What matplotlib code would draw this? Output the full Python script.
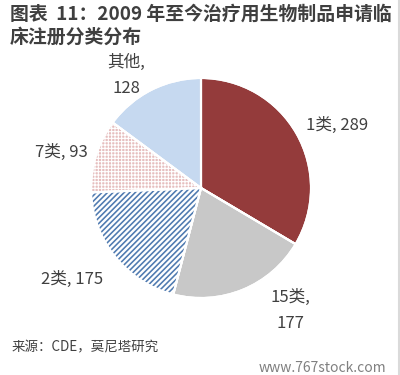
import matplotlib
matplotlib.use("Agg")
import matplotlib.pyplot as plt
from matplotlib.patches import Wedge
import numpy as np

plt.rcParams['font.family'] = ['Noto Sans CJK SC', 'DejaVu Sans']

categories = ['1类', '15类', '2类', '7类', '其他']
values = [289, 177, 175, 93, 128]
label_texts = ['1类, 289', '15类,\n177', '2类, 175', '7类, 93', '其他,\n128']

colors = ['#943B3B', '#C8C8C8', '#FFFFFF', '#E6BEBE', '#C6D9F0']
hatches = [None, None, '//////', '+++++', None]
hatch_colors = [None, None, '#4F7AB0', '#FFFFFF', None]
hatch_lw = [None, None, 1.15, 0.8, None]
# label positions in units of pie radius
label_pos = [(1.24, 0.57), (0.81, -1.11), (-1.17, -0.83), (-1.27, 0.32), (-0.68, 1.02)]

W, H = 400, 375
fig = plt.figure(figsize=(W / 100, H / 100), dpi=100)

cx, cy, R = 201, 188, 110
ax = fig.add_axes([(cx - R) / W, 1 - (cy + R) / H, 2 * R / W, 2 * R / H])

wedges, _ = ax.pie(values, colors=colors, startangle=90, counterclock=False,
                   radius=1, wedgeprops=dict(edgecolor='white', linewidth=1.5))
ax.set_xlim(-1, 1)
ax.set_ylim(-1, 1)
ax.set_aspect('equal')
ax.axis('off')
for w, h, hc, lw in zip(wedges, hatches, hatch_colors, hatch_lw):
    if h:
        plt.rcParams['hatch.linewidth'] = lw
        hw = Wedge(w.center, w.r, w.theta1, w.theta2, facecolor='none',
                   edgecolor=hc, hatch=h, linewidth=0, zorder=w.get_zorder() + 0.1)
        ax.add_patch(hw)
for w in wedges:
    ow = Wedge(w.center, w.r, w.theta1, w.theta2, facecolor='none',
               edgecolor='white', linewidth=1.5, zorder=w.get_zorder() + 0.2)
    ax.add_patch(ow)

for txt, (x, y) in zip(label_texts, label_pos):
    ax.text(x, y, txt, ha='center', va='center', fontsize=12, color='#404040',
            linespacing=1.7, clip_on=False)

fig.text(10 / W, 1 - 14 / H, '图表  11：2009 年至今治疗用生物制品申请临', fontsize=13.6,
         fontweight='bold', color='#3F3F3F', va='center', ha='left')
fig.text(10 / W, 1 - 37 / H, '床注册分类分布', fontsize=13.6,
         fontweight='bold', color='#3F3F3F', va='center', ha='left')
fig.text(12 / W, 1 - 347 / H, '来源：CDE，莫尼塔研究', fontsize=9.7,
         color='#404040', va='center', ha='left')
fig.text(386 / W, 1 - 368 / H, 'www.767stock.com', fontsize=10,
         color='#808080', va='center', ha='right')

fig.add_artist(plt.Line2D([398.5 / W, 398.5 / W], [0, 1], color='#DADADA', lw=1.5,
                          transform=fig.transFigure))

fig.savefig('out.png', dpi=100)
